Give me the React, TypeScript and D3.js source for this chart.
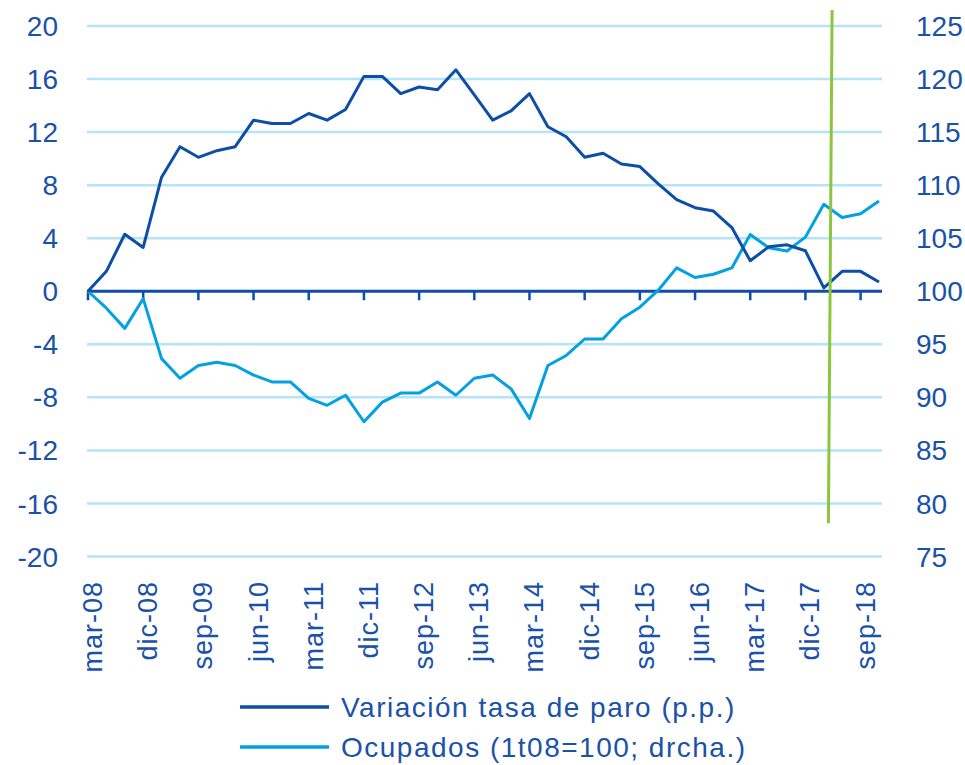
import React from "react";
import * as d3 from "d3";

const categories = [
  "mar-08","jun-08","sep-08","dic-08","mar-09","jun-09","sep-09","dic-09",
  "mar-10","jun-10","sep-10","dic-10","mar-11","jun-11","sep-11","dic-11",
  "mar-12","jun-12","sep-12","dic-12","mar-13","jun-13","sep-13","dic-13",
  "mar-14","jun-14","sep-14","dic-14","mar-15","jun-15","sep-15","dic-15",
  "mar-16","jun-16","sep-16","dic-16","mar-17","jun-17","sep-17","dic-17",
  "mar-18","jun-18","sep-18","dic-18",
];

const variacionParo = [
  0, 1.5, 4.3, 3.3, 8.6, 10.9, 10.1, 10.6, 10.9, 12.9, 12.65, 12.65, 13.4, 12.9, 13.7, 16.2,
  16.2, 14.9, 15.4, 15.2, 16.7, 14.8, 12.9, 13.6, 14.9, 12.4, 11.65, 10.1, 10.4, 9.6, 9.4, 8.1,
  6.9, 6.3, 6.05, 4.8, 2.3, 3.35, 3.5, 3.05, 0.25, 1.5, 1.5, 0.7,
];

const ocupados = [
  100, 98.4, 96.5, 99.3, 93.65, 91.8, 93.0, 93.3, 93.0, 92.1, 91.45, 91.45, 89.9, 89.25, 90.2, 87.7,
  89.55, 90.4, 90.4, 91.45, 90.2, 91.8, 92.1, 90.8, 88.0, 93.0, 93.95, 95.5, 95.5, 97.4, 98.5, 100.1,
  102.2, 101.3, 101.6, 102.2, 105.35, 104.1, 103.8, 105.1, 108.2, 106.95, 107.3, 108.5,
];

const leftTicks = [20, 16, 12, 8, 4, 0, -4, -8, -12, -16, -20];
const rightTicks = [125, 120, 115, 110, 105, 100, 95, 90, 85, 80, 75];
const labelEvery = 3;

// vertical marker (category index position, left-axis values)
const markerTop = { idx: 40.45, value: 21.2 };
const markerBottom = { idx: 40.25, value: -17.5 };

const legendItems = [
  { label: "Variación tasa de paro (p.p.)", key: "paro" },
  { label: "Ocupados (1t08=100; drcha.)", key: "ocup" },
];

const DARK = "#0D4EA6";
const LIGHT = "#03A1E2";
const GRID = "#B5E4F8";
const TEXT = "#1A52A8";
const GREEN = "#8CC63E";
const FONT = "'Liberation Sans', Arial, sans-serif";

export default function App() {
  const W = 965, H = 765;
  const x0 = 87, x1 = 882;
  const x = d3.scaleLinear().domain([0, categories.length - 1]).range([88, 879]);
  const yL = d3.scaleLinear().domain([-20, 20]).range([556.5, 26]);
  const yR = d3.scaleLinear().domain([75, 125]).range([556.5, 26]);

  const lineL = d3.line<number>().x((_, i) => x(i)).y((d) => yL(d));
  const lineR = d3.line<number>().x((_, i) => x(i)).y((d) => yR(d));

  const tickIdx = d3.range(0, categories.length, labelEvery);

  return (
    <div style={{ position: "absolute", left: 0, top: 0 }}>
      <svg width={W} height={H} style={{ display: "block", fontFamily: FONT }}>
        <rect width={W} height={H} fill="#fff" />
        {leftTicks.filter((t) => t !== 0).map((t) => (
          <line key={t} x1={x0} x2={x1} y1={yL(t)} y2={yL(t)} stroke={GRID} strokeWidth={2.5} />
        ))}
        {leftTicks.map((t) => (
          <text key={"l" + t} x={58} y={yL(t)} dy="0.36em" textAnchor="end" fontSize={28} fill={TEXT}>
            {t}
          </text>
        ))}
        {rightTicks.map((t) => (
          <text key={"r" + t} x={916} y={yR(t)} dy="0.36em" textAnchor="start" fontSize={28} fill={TEXT}>
            {t}
          </text>
        ))}
        {/* axis at zero */}
        <line x1={x0} x2={x1} y1={yL(0)} y2={yL(0)} stroke={DARK} strokeWidth={3} />
        {tickIdx.map((i) => (
          <line key={"t" + i} x1={x(i)} x2={x(i)} y1={yL(0)} y2={yL(0) + 9} stroke={DARK} strokeWidth={2.5} />
        ))}
        {tickIdx.map((i) => (
          <text
            key={"x" + i}
            transform={`translate(${x(i) + 14},581) rotate(-90)`}
            textAnchor="end"
            fontSize={27}
            letterSpacing={1}
            fill={TEXT}
          >
            {categories[i]}
          </text>
        ))}
        <path d={lineR(ocupados) || ""} fill="none" stroke={LIGHT} strokeWidth={3} strokeLinejoin="round" />
        <path d={lineL(variacionParo) || ""} fill="none" stroke={DARK} strokeWidth={3} strokeLinejoin="round" />
        <line
          x1={x(markerTop.idx)}
          y1={yL(markerTop.value)}
          x2={x(markerBottom.idx)}
          y2={yL(markerBottom.value)}
          stroke={GREEN}
          strokeWidth={3}
        />
        {legendItems.map((it, k) => (
          <g key={it.key} transform={`translate(0,${707 + k * 40})`}>
            <line x1={240} x2={329} y1={0} y2={0} stroke={k === 0 ? DARK : LIGHT} strokeWidth={3.5} />
            <text x={341} y={0} dy="0.36em" fontSize={28} letterSpacing={1.5} fill={TEXT}>
              {it.label}
            </text>
          </g>
        ))}
      </svg>
    </div>
  );
}
